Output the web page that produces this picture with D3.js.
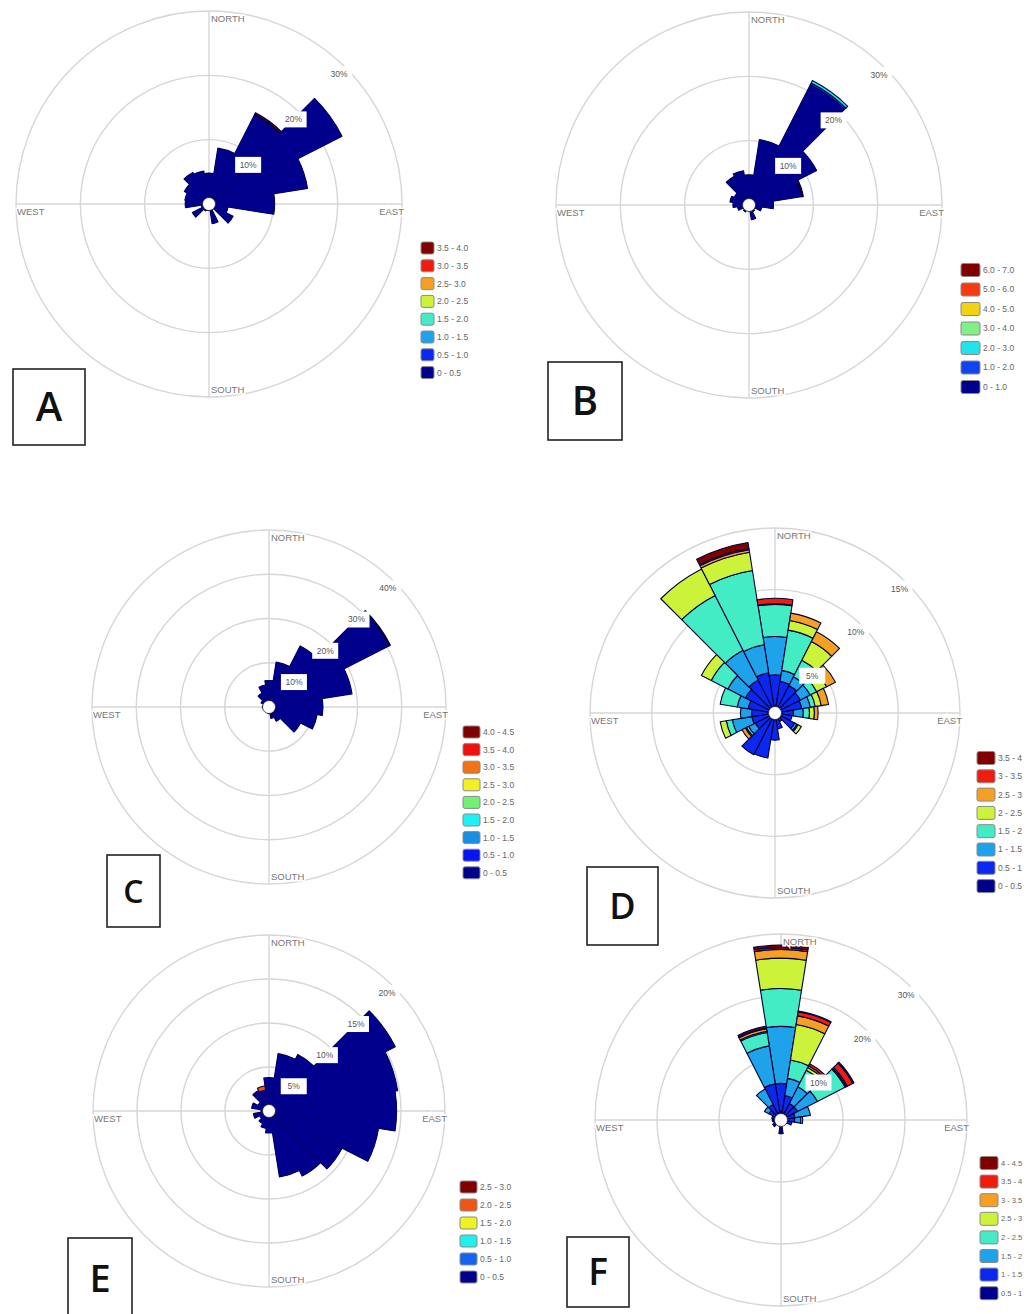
<!DOCTYPE html>
<html lang="en">

<head>
    <meta charset="UTF-8">
    <title>Wind roses A-F</title>
    <script src="https://d3js.org/d3.v7.min.js"></script>
    <style>
        * {
            margin: 0;
            padding: 0;
        }

        body {
            background: #fff;
        }
    </style>
</head>

<body>
    <script>
        var width = 1028;
        var height = 1314;

        // wind directions (sector centres, degrees clockwise from north)
        var dirs = [0, 18, 36, 54, 72, 90, 108, 126, 144, 162, 180, 198, 216, 234, 252, 270, 288, 306, 324, 342];

        // A
        var binsA = ['0 - 0.5', '0.5 - 1.0', '1.0 - 1.5', '1.5 - 2.0', '2.0 - 2.5', '2.5- 3.0', '3.0 - 3.5', '3.5 - 4.0'];
        var ticksA = [10, 20, 30];
        var roseA = [[4.8], [8.8], [15.5, 0, 0, 0, 0, 0, 0.15, 0.25], [23.2], [15.5], [10.2], [3.0], [4.2], [1.0], [3.1],
            [1.0], [1.0], [1.2], [2.9], [1.2], [3.7], [3.8], [4.3], [5.5], [5.2]];

        // B
        var binsB = ['0 - 1.0', '1.0 - 2.0', '2.0 - 3.0', '3.0 - 4.0', '4.0 - 5.0', '5.0 - 6.0', '6.0 - 7.0'];
        var ticksB = [10, 20, 30];
        var roseB = [[4.7], [10.3], [21.0, 0.3, 0.4], [11.8], [8.2, 0, 0, 0, 0, 0.15, 0.2], [3.8], [2.0], [1.0], [1.2], [2.3],
            [0.8], [0.6], [1.2], [1.0], [1.8], [2.5], [3.0], [2.6], [5.0], [5.4]];

        // C
        var binsC = ['0 - 0.5', '0.5 - 1.0', '1.0 - 1.5', '1.5 - 2.0', '2.0 - 2.5', '2.5 - 3.0', '3.0 - 3.5', '3.5 - 4.0', '4.0 - 4.5'];
        var ticksC = [10, 20, 30, 40];
        var roseC = [[6.0], [10.3], [15.5], [30.4, 0, 0, 0, 0, 0, 0, 0.2, 0.2], [19.0], [12.2], [11.0], [8.0], [3.6], [2.6],
            [1.5], [0.8], [0.6], [0.8], [1.2], [1.5], [1.2], [2.0], [3.5], [5.0]];

        // D
        var binsD = ['0 - 0.5', '0.5 - 1', '1 - 1.5', '1.5 - 2', '2 - 2.5', '2.5 - 3', '3 - 3.5', '3.5 - 4'];
        var ticksD = [5, 10, 15];
        var roseD = [
            [0.5, 2.6, 3.1, 2.6, 0, 0.05, 0.45, 0],
            [0.3, 2.3, 0.9, 3.3, 0.8, 0.6],
            [0.3, 2.2, 0.8, 1.5, 1.7, 0.9],
            [0.3, 2.0, 0.9, 0.6, 0.9, 0.8],
            [0.3, 1.9, 0.7, 0.4, 0.5, 0.6],
            [0.3, 1.2, 0.8, 0.5, 0.4, 0.3],
            [0.3, 1.1],
            [0.3, 1.5, 0.2, 0.1, 0.3],
            [0.3, 0.5],
            [0.3, 1.0],
            [0.4, 1.8],
            [0.4, 3.3],
            [0.4, 3.4],
            [0.3, 1.5, 0.6, 0.2, 0.1, 0.3],
            [0.3, 1.6, 1.6, 0.5, 0.5],
            [0.3, 1.6, 0.9],
            [0.3, 1.9, 0.9, 1.4],
            [0.4, 2.3, 1.6, 1.5, 0.9],
            [0.5, 2.5, 2.7, 5.0, 2.4],
            [0.5, 2.8, 2.3, 6.1, 1.5, 0.2, 0.1, 0.5]];

        // E
        var binsE = ['0 - 0.5', '0.5 - 1.0', '1.0 - 1.5', '1.5 - 2.0', '2.0 - 2.5', '2.5 - 3.0'];
        var ticksE = [5, 10, 15, 20];
        var roseE = [[3.8], [6.6], [7.2], [16.1], [14.8], [14.5], [12.6], [9.3], [8.3], [7.6],
            [2.5], [2.0], [1.6], [1.2], [1.8], [0.9], [2.0], [1.4], [2.6], [2.4, 0, 0, 0, 0.5]];

        // F
        var binsF = ['0.5 - 1', '1 - 1.5', '1.5 - 2', '2 - 2.5', '2.5 - 3', '3 - 3.5', '3.5 - 4', '4 - 4.5'];
        var ticksF = [10, 20, 30];
        var roseF = [
            [1.5, 4.4, 9.2, 6.1, 4.9, 1.4, 0.3, 0.4],
            [1.2, 2.8, 2.8, 3.0, 5.8, 1.4, 0.7, 0.1],
            [1.0, 2.0, 3.0, 3.0, 0.5, 0.3, 0.4],
            [1.0, 2.0, 3.6, 5.0, 0.2, 0.2, 1.0, 0.2],
            [0.8, 1.5, 2.5],
            [0.7, 1.5, 1.0, 0.3],
            [0.8, 1.0],
            [0.6, 0.4],
            [0.5, 0.3],
            [0.8],
            [2.2],
            [1.0],
            [0.8],
            [1.5],
            [1.2],
            [1.4],
            [0.6, 0.9],
            [0.7, 1.5, 0.8],
            [0.8, 2.0, 2.8],
            [1.2, 4.7, 6.2, 2.2, 0.2, 0.4, 0.1, 0.3]];

        // colour ramps (low -> high speed)
        var jet8 = ['#00008c', '#0a28f0', '#1ea2ea', '#44ecc6', '#cdf23a', '#f5a022', '#f01c10', '#800000'];
        var jetB = ['#00008c', '#1244ee', '#22e2ea', '#82f084', '#f2d214', '#f43a12', '#800000'];
        var jetC = ['#00008c', '#0a14f0', '#1a8ee2', '#22f0f0', '#74f074', '#f2f022', '#f27214', '#f01010', '#800000'];
        var jetE = ['#00008c', '#1464f0', '#22f0ee', '#f2f222', '#f25414', '#800000'];

        var svg = d3.select('body')
            .append('svg')
            .attr('width', width)
            .attr('height', height)
            .style('display', 'block');

        var panels = [
            { name: 'A', bins: binsA, ticks: ticksA, rose: roseA, colors: jet8, cx: 209, cy: 204, R: 193, lx: 421, ly: 248, step: 17.8, sw: 13, sh: 12, lf: 8.5, box: [13, 369, 72, 76], fs: 40 },
            { name: 'B', bins: binsB, ticks: ticksB, rose: roseB, colors: jetB, cx: 749, cy: 205, R: 193, lx: 961, ly: 270, step: 19.5, sw: 19, sh: 13, lf: 8.5, box: [548, 362, 74, 78], fs: 40 },
            { name: 'C', bins: binsC, ticks: ticksC, rose: roseC, colors: jetC, cx: 269, cy: 707, R: 177, lx: 463, ly: 732, step: 17.6, sw: 17, sh: 12, lf: 8.5, box: [107, 855, 53, 72], fs: 32 },
            { name: 'D', bins: binsD, ticks: ticksD, rose: roseD, colors: jet8, cx: 775, cy: 713, R: 185, lx: 977, ly: 758, step: 18.3, sw: 18, sh: 13, lf: 8.5, box: [587, 867, 71, 78], fs: 36 },
            { name: 'E', bins: binsE, ticks: ticksE, rose: roseE, colors: jetE, cx: 269, cy: 1111, R: 176, lx: 460, ly: 1187, step: 18, sw: 17, sh: 12, lf: 8.5, box: [68, 1238, 64, 80], fs: 38 },
            { name: 'F', bins: binsF, ticks: ticksF, rose: roseF, colors: jet8, cx: 781, cy: 1120, R: 186, lx: 980, ly: 1163, step: 18.6, sw: 18, sh: 13, lf: 7.5, box: [567, 1237, 62, 70], fs: 37 }
        ];

        var half = 9 * Math.PI / 180;
        var arc = d3.arc();
        var smallFont = '"Liberation Sans", Arial, sans-serif';

        panels.forEach(function (p) {
            var g = svg.append('g')
                .attr('transform', 'translate(' + p.cx + ',' + p.cy + ')');

            var r = d3.scaleLinear()
                .domain([0, d3.max(p.ticks)])
                .range([0, p.R]);

            // grid circles + cross
            g.selectAll('.ring')
                .data(p.ticks)
                .join('circle')
                .attr('class', 'ring')
                .attr('r', function (d) { return r(d); })
                .attr('fill', 'none')
                .attr('stroke', '#d6d6d6')
                .attr('stroke-width', 1.4);

            g.append('line').attr('x1', -p.R).attr('x2', p.R).attr('y1', 0).attr('y2', 0)
                .attr('stroke', '#d6d6d6').attr('stroke-width', 1.4);
            g.append('line').attr('x1', 0).attr('x2', 0).attr('y1', -p.R).attr('y2', p.R)
                .attr('stroke', '#d6d6d6').attr('stroke-width', 1.4);

            // stacked sectors
            var rows = p.rose.map(function (d) {
                return p.bins.map(function (b, k) { return d[k] || 0; });
            });
            var series = d3.stack()
                .keys(d3.range(p.bins.length))
                .value(function (d, k) { return d[k]; })(rows);

            var sectorPath = function (s) {
                var a = dirs[s.i] * Math.PI / 180;
                return arc({ innerRadius: r(s.y0), outerRadius: r(s.y1), startAngle: a - half, endAngle: a + half });
            };

            var layers = series.map(function (layer) {
                return layer.map(function (s, i) { return { i: i, y0: s[0], y1: s[1] }; })
                    .filter(function (s) { return s.y1 - s.y0 > 0; });
            });

            layers.forEach(function (segs, k) {
                g.selectAll(null)
                    .data(segs)
                    .join('path')
                    .attr('d', sectorPath)
                    .attr('fill', p.colors[k])
                    .attr('stroke', '#000036')
                    .attr('stroke-width', 1.1)
                    .attr('stroke-linejoin', 'round');
            });

            // lowest bin redrawn without outline so the navy body reads as one shape
            g.selectAll(null)
                .data(layers[0])
                .join('path')
                .attr('d', sectorPath)
                .attr('fill', p.colors[0]);

            // empty centre
            g.append('circle')
                .attr('r', 6.5)
                .attr('fill', '#fff')
                .attr('stroke', '#222')
                .attr('stroke-width', 0.8);

            // percent labels along 45 degrees
            var pl = g.selectAll('.pct')
                .data(p.ticks)
                .join('g')
                .attr('class', 'pct')
                .attr('transform', function (d) {
                    var rr = r(d) - 9;
                    return 'translate(' + (rr * Math.SQRT1_2) + ',' + (-rr * Math.SQRT1_2) + ')';
                });
            pl.append('rect')
                .attr('x', -13).attr('y', -8).attr('width', 26).attr('height', 16)
                .attr('fill', '#fff');
            pl.append('text')
                .attr('text-anchor', 'middle')
                .attr('dy', '0.35em')
                .style('font-family', smallFont)
                .style('font-size', '8.5px')
                .attr('fill', '#555')
                .text(function (d) { return d + '%'; });

            // compass words
            var compass = [
                { t: 'NORTH', x: 2, y: -p.R + 11, a: 'start' },
                { t: 'SOUTH', x: 2, y: p.R - 4, a: 'start' },
                { t: 'WEST', x: -p.R + 1, y: 11, a: 'start' },
                { t: 'EAST', x: p.R + 2, y: 11, a: 'end' }
            ];
            g.selectAll('.cmp')
                .data(compass)
                .join('text')
                .attr('class', 'cmp')
                .attr('x', function (d) { return d.x; })
                .attr('y', function (d) { return d.y; })
                .attr('text-anchor', function (d) { return d.a; })
                .style('font-family', smallFont)
                .style('font-size', '9.5px')
                .style('paint-order', 'stroke')
                .attr('stroke', '#fff')
                .attr('stroke-width', 3)
                .attr('fill', '#777')
                .text(function (d) { return d.t; });

            // legend, highest bin on top
            var items = p.bins.map(function (b, k) { return { label: b, color: p.colors[k] }; }).reverse();
            var lg = svg.append('g');
            lg.selectAll('rect')
                .data(items)
                .join('rect')
                .attr('x', p.lx)
                .attr('y', function (d, j) { return p.ly + j * p.step - p.sh / 2; })
                .attr('width', p.sw)
                .attr('height', p.sh)
                .attr('rx', 2)
                .attr('fill', function (d) { return d.color; })
                .attr('stroke', '#8a8a8a')
                .attr('stroke-width', 1);
            lg.selectAll('text')
                .data(items)
                .join('text')
                .attr('x', p.lx + p.sw + 3)
                .attr('y', function (d, j) { return p.ly + j * p.step; })
                .attr('dy', '0.35em')
                .style('font-family', smallFont)
                .style('font-size', p.lf + 'px')
                .attr('fill', '#666')
                .text(function (d) { return d.label; });

            // panel letter
            svg.append('rect')
                .attr('x', p.box[0]).attr('y', p.box[1])
                .attr('width', p.box[2]).attr('height', p.box[3])
                .attr('fill', '#fff')
                .attr('stroke', '#222')
                .attr('stroke-width', 1.6);
            svg.append('text')
                .attr('x', p.box[0] + p.box[2] / 2)
                .attr('y', p.box[1] + p.box[3] / 2)
                .attr('text-anchor', 'middle')
                .attr('dy', '0.36em')
                .style('font', '600 ' + p.fs + 'px "Open Sans", "Liberation Sans", sans-serif')
                .attr('fill', '#111')
                .text(p.name);
        });
    </script>
</body>

</html>
